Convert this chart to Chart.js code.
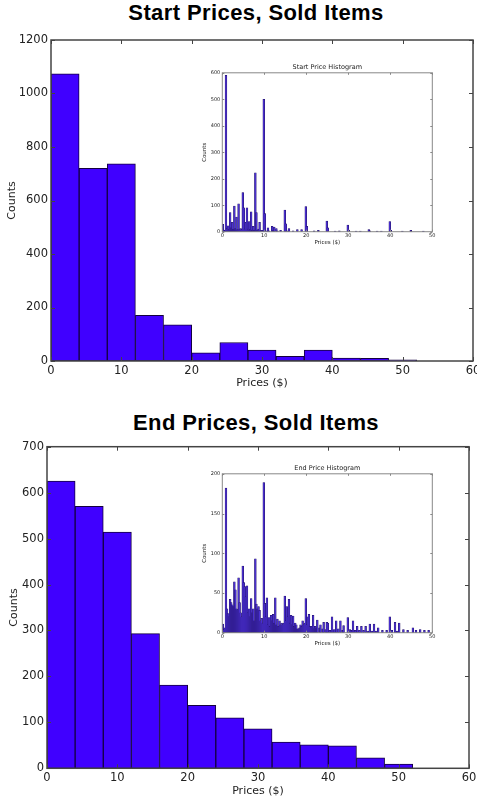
<!DOCTYPE html>
<html>
<head>
<meta charset="utf-8">
<script src="https://cdn.jsdelivr.net/npm/chart.js@4.4.1/dist/chart.umd.min.js"></script>
<style>
  body { margin: 0; background: #fff; }
  #wrap { position: relative; width: 477px; height: 804px; overflow: hidden; }
  #wrap canvas { position: absolute; }
  .ttl { position: absolute; left: 0; width: 512px; text-align: center; letter-spacing: 0.4px;
         font: bold 22px "Liberation Sans", Arial, sans-serif; color: #000; }
</style>
</head>
<body>
<div id="wrap">
  <div class="ttl" style="top:0px">Start Prices, Sold Items</div>
  <div class="ttl" style="top:410px">End Prices, Sold Items</div>
  <canvas id="startMain" width="477" height="361" style="left:0;top:30px"></canvas>
  <canvas id="startInset" width="245" height="186" style="left:195px;top:61px"></canvas>
  <canvas id="endMain" width="477" height="363" style="left:0;top:436px"></canvas>
  <canvas id="endInset" width="245" height="186" style="left:195px;top:462px"></canvas>
</div>
<script>
// main histograms: bins of $4 starting at these left edges
var mainBinEdges = [0, 4, 8, 12, 16, 20, 24, 28, 32, 36, 40, 44, 48];
var startCounts = [1074, 720, 737, 171, 135, 31, 69, 41, 17, 41, 11, 10, 4];
var endCounts = [625, 570, 514, 293, 181, 137, 110, 86, 57, 51, 49, 23, 9];

// inset histograms: bins of $0.25, left edge -> count (empty bins left out)
var startInsetEdges = [0, 0.25, 0.5, 0.75, 1, 1.25, 1.5, 1.75, 2, 2.25, 2.5, 2.75, 3, 3.25, 3.5, 3.75,
  4, 4.25, 4.5, 4.75, 5, 5.25, 5.5, 5.75, 6, 6.25, 6.5, 6.75, 7, 7.25, 7.5, 7.75,
  8, 8.25, 8.5, 8.75, 9, 9.25, 9.5, 9.75, 10, 10.5, 10.75, 11, 11.75, 12, 12.25, 12.75,
  13, 13.75, 14.75, 15, 15.5, 15.75, 16.75, 17.75, 18.75, 19.75, 20, 21.75, 22.75, 24.75,
  25, 26.75, 27.75, 29.75, 30, 31.75, 32.75, 34.75, 35, 36.75, 37.75, 39.75, 40, 42.75, 44.75, 47.75];
var startInsetCounts = [28, 6, 4, 590, 12, 22, 8, 72, 15, 35, 10, 97, 12, 55, 8, 105,
  10, 12, 8, 148, 90, 10, 35, 90, 10, 38, 8, 75, 6, 20, 6, 222,
  72, 6, 10, 35, 4, 5, 4, 500, 68, 3, 15, 3, 20, 4, 17, 12,
  3, 5, 82, 30, 3, 12, 3, 8, 8, 95, 20, 3, 5, 40,
  15, 2, 3, 25, 6, 2, 2, 8, 3, 2, 2, 38, 5, 2, 5, 2];

var endInsetEdges = [0, 0.25, 0.5, 0.75, 1, 1.25, 1.5, 1.75, 2, 2.25, 2.5, 2.75, 3, 3.25, 3.5, 3.75,
  4, 4.25, 4.5, 4.75, 5, 5.25, 5.5, 5.75, 6, 6.25, 6.5, 6.75, 7, 7.25, 7.5, 7.75,
  8, 8.25, 8.5, 8.75, 9, 9.25, 9.5, 9.75, 10, 10.25, 10.5, 10.75, 11, 11.25, 11.5, 11.75,
  12, 12.25, 12.5, 12.75, 13, 13.25, 13.5, 13.75, 14, 14.25, 14.5, 14.75, 15, 15.25, 15.5, 15.75,
  16, 16.25, 16.5, 16.75, 17, 17.25, 17.5, 17.75, 18, 18.25, 18.5, 18.75, 19, 19.25, 19.5, 19.75,
  20, 20.25, 20.5, 20.75, 21, 21.25, 21.5, 21.75, 22, 22.25, 22.5, 23, 23.25, 23.75, 24, 24.5,
  24.75, 25, 25.5, 26, 26.5, 27, 27.5, 28, 28.5, 28.75, 29.75, 30.25, 30.5, 31, 31.5, 32,
  32.5, 33, 33.5, 34, 34.5, 35, 35.5, 36, 36.5, 37, 38, 39, 39.75, 40.25, 41, 41.5,
  42, 43, 44, 45.25, 46, 47, 48, 49];
var endInsetCounts = [11, 4, 6, 182, 30, 24, 20, 42, 38, 35, 33, 64, 54, 30, 29, 69,
  38, 25, 20, 84, 63, 58, 45, 59, 25, 30, 20, 43, 25, 30, 15, 93,
  36, 30, 33, 28, 15, 18, 12, 189, 37, 20, 44, 10, 19, 8, 22, 15,
  23, 12, 44, 10, 17, 8, 15, 10, 12, 10, 12, 46, 15, 33, 20, 42,
  12, 22, 10, 21, 8, 12, 10, 5, 5, 6, 10, 8, 15, 10, 12, 43,
  10, 20, 23, 8, 6, 8, 22, 5, 8, 6, 16, 6, 10, 5, 13, 4,
  13, 12, 3, 20, 4, 15, 5, 15, 3, 9, 19, 4, 3, 15, 3, 8,
  3, 8, 3, 8, 2, 11, 2, 11, 2, 6, 3, 3, 20, 3, 13, 2,
  12, 4, 3, 6, 3, 4, 3, 3];

Chart.defaults.font.family = '"DejaVu Sans", sans-serif';
Chart.defaults.color = '#222';

// matplotlib-like frame with inward ticks on all four sides
var boxTicks = {
  id: 'boxTicks',
  afterDraw: function(chart, args, opts) {
    var ctx = chart.ctx, a = chart.chartArea;
    var x = chart.scales.x, y = chart.scales.y;
    var len = opts.len;
    ctx.save();
    ctx.strokeStyle = opts.color;
    ctx.lineWidth = 1;
    ctx.beginPath();
    x.ticks.forEach(function(t) {
      var p = Math.round(x.getPixelForValue(t.value)) + 0.5;
      ctx.moveTo(p, a.bottom); ctx.lineTo(p, a.bottom - len);
      ctx.moveTo(p, a.top); ctx.lineTo(p, a.top + len);
    });
    y.ticks.forEach(function(t) {
      var p = Math.round(y.getPixelForValue(t.value)) + 0.5;
      ctx.moveTo(a.left, p); ctx.lineTo(a.left + len, p);
      ctx.moveTo(a.right, p); ctx.lineTo(a.right - len, p);
    });
    ctx.stroke();
    ctx.lineWidth = opts.width;
    ctx.strokeRect(a.left, a.top, a.right - a.left, a.bottom - a.top);
    ctx.restore();
  }
};

function plainNum(v) { return String(v); }

function histData(edges, counts, binWidth) {
  return edges.map(function(e, i) { return {x: e + binWidth / 2, y: counts[i]}; });
}

function mainChart(id, counts, yMax, yStep, yAxisW, xAxisH, pad, titleLeft) {
  return new Chart(document.getElementById(id), {
    type: 'bar',
    data: {
      datasets: [{
        data: histData(mainBinEdges, counts, 4),
        backgroundColor: '#4000ff',
        borderColor: '#140040',
        borderWidth: 1,
        borderSkipped: false,
        barPercentage: 1,
        categoryPercentage: 1
      }]
    },
    options: {
      responsive: false,
      animation: false,
      layout: { padding: pad },
      plugins: {
        legend: { display: false },
        tooltip: { enabled: false },
        boxTicks: { len: 4, color: '#444', width: 1.5 }
      },
      scales: {
        x: {
          type: 'linear', min: 0, max: 60, offset: false,
          grid: { display: false, drawTicks: false, tickLength: 0, offset: false },
          border: { display: false },
          ticks: { stepSize: 10, padding: 3, font: { size: 11.5 }, maxRotation: 0, callback: plainNum },
          title: { display: true, text: 'Prices ($)', font: { size: 11 }, padding: { top: 0, bottom: 1.4 } },
          afterFit: function(s) { s.height = xAxisH; s.paddingLeft = 0; s.paddingRight = 0; }
        },
        y: {
          min: 0, max: yMax,
          grid: { display: false, drawTicks: false, tickLength: 0 },
          border: { display: false },
          ticks: { stepSize: yStep, padding: 3, font: { size: 11.5 }, callback: plainNum },
          title: { display: true, text: 'Counts', font: { size: 11 }, padding: { top: titleLeft, bottom: 0 } },
          afterFit: function(s) { s.width = yAxisW; s.paddingTop = 0; s.paddingBottom = 0; }
        }
      }
    },
    plugins: [boxTicks]
  });
}

function insetChart(id, title, edges, counts, yMax, yStep) {
  return new Chart(document.getElementById(id), {
    type: 'bar',
    data: {
      datasets: [{
        data: histData(edges, counts, 0.25),
        backgroundColor: '#4a30d0',
        borderColor: '#1e0e5e',
        borderWidth: 0.5,
        borderSkipped: false,
        barThickness: 1.8
      }]
    },
    options: {
      responsive: false,
      animation: false,
      layout: { padding: { top: 0, right: 7.7, left: 0, bottom: 0 } },
      plugins: {
        legend: { display: false },
        tooltip: { enabled: false },
        title: { display: true, text: title, fullSize: false, color: '#222',
                 font: { size: 6.5, weight: 'normal' }, padding: { top: 2, bottom: 2 } },
        boxTicks: { len: 2, color: '#888', width: 1 }
      },
      scales: {
        x: {
          type: 'linear', min: 0, max: 50, offset: false,
          grid: { display: false, drawTicks: false, tickLength: 0, offset: false },
          border: { display: false },
          ticks: { stepSize: 10, padding: 1.5, font: { size: 5 }, maxRotation: 0, callback: plainNum },
          title: { display: true, text: 'Prices ($)', font: { size: 5.5 }, padding: { top: 0, bottom: 0.7 } },
          afterFit: function(s) { s.height = 15.3; s.paddingLeft = 0; s.paddingRight = 0; }
        },
        y: {
          min: 0, max: yMax,
          grid: { display: false, drawTicks: false, tickLength: 0 },
          border: { display: false },
          ticks: { stepSize: yStep, padding: 2, font: { size: 5 }, callback: plainNum },
          title: { display: true, text: 'Counts', font: { size: 5.5 }, padding: { top: 6.7, bottom: 0 } },
          afterFit: function(s) { s.width = 27.3; s.paddingTop = 0; s.paddingBottom = 0; }
        }
      }
    },
    plugins: [boxTicks]
  });
}

mainChart('startMain', startCounts, 1200, 200, 51, 30, { top: 10, right: 4, left: 0, bottom: 0 }, 5.4);
mainChart('endMain', endCounts, 700, 100, 47, 30.7, { top: 10.7, right: 8, left: 0, bottom: 0 }, 7.4);
insetChart('startInset', 'Start Price Histogram', startInsetEdges, startInsetCounts, 600, 100);
insetChart('endInset', 'End Price Histogram', endInsetEdges, endInsetCounts, 200, 50);
</script>
</body>
</html>
